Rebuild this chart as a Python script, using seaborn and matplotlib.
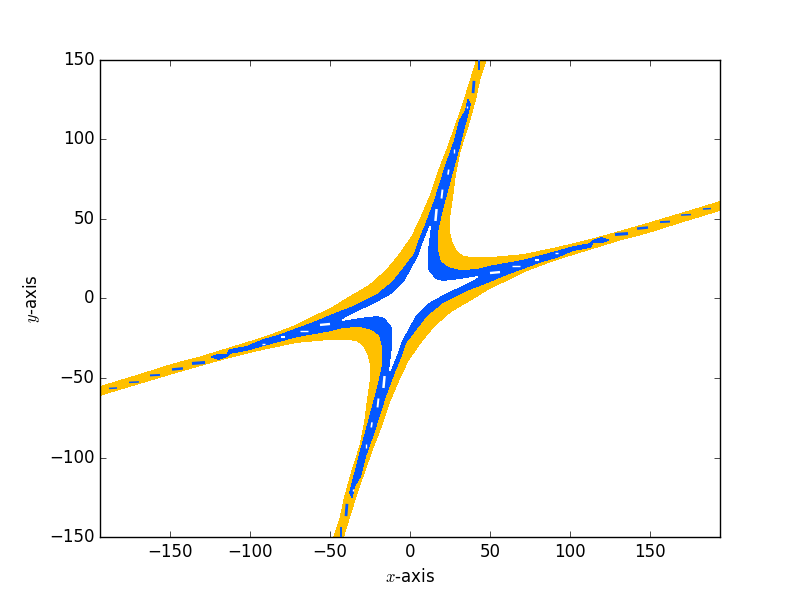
import numpy as np
import matplotlib
matplotlib.use("Agg")
import matplotlib.pyplot as plt
import seaborn as sns

plt.style.use("classic")

GOLD = "#ffc000"
BLUE = "#0558ff"

# half outlines in data units; the figure has point symmetry through the origin
gold_x = [41.9, 47.5, 43.75, 40.6, 36.25, 31.25, 28.1, 26.1, 24.6, 24.6, 26.1, 29.2, 33.1, 41.7, 50, 70.6, 91.9, 112.5,
          131.25, 148.1, 168.8, 193.75, 193.75, 168.8, 148.1, 131.25, 122.9, 112.5, 101.9, 91.9, 81.25, 70.6,
          60.4, 50, 39.4, 25, 14.4, 6.25, -1.25, -6.25, -12.5, -18.75, -23.1, -33.3]
gold_y = [150, 150, 139, 124.6, 108.9, 93.2, 77.5, 61.8, 51.2, 41.1, 34.8, 29.2, 26.1, 25.4, 25.4, 27.3, 31.7, 36.7,
          41.9, 46.8, 53, 60.6, 55.6, 48, 41.4, 37, 34.4, 31.2, 27.9, 24.8, 21, 16.8,
          11.6, 6.8, 0.3, -8.3, -17.7, -27.9, -38.6, -49.1, -63.7, -82, -93, -122.1]

blue_x = [36.25, 37.5, 35.4, 31.25, 25, 21.6, 20, 16.7, 16.9, 18.75, 23.75, 31.25, 41.7, 50, 70.6, 91.9, 101.9,
          112.5, 114.4, 119.8, 123.75, 120.6, 114.4, 112.5, 101.9, 91.9, 81.25, 70.6, 60.4, 50, 35.4, 20.6, 10.4,
          3.1, -3.1, -6.25, -9.4, -15.6, -23, -28.1, -31.25, -35]
blue_y = [124.6, 122.1, 113.9, 97.6, 74.4, 61.8, 55.6, 41.1, 30.4, 22.9, 19.1, 17.3, 17.9, 20, 23.7, 29.4, 32.3,
          34.2, 36.3, 38, 36.7, 35.7, 35.7, 32.3, 30.4, 26.2, 23.1, 19.1, 15.4, 11, 5.3, -2, -10.4,
          -19.8, -27.9, -37.4, -44.9, -61.6, -85, -99.3, -111.9, -118.1]

star_x = [12.5, 10.4, 10.6, 15.6, 20.6, 31.25, 41.9, 31.25, 25, 10.4, 3.1, -2.1, -6.25, -8.75]
star_y = [44.9, 28.6, 17.9, 11.6, 10.5, 11.6, 13.5, 7.8, 5.3, -2.8, -10.4, -19.8, -27.9, -35.5]

# small gaps and islands: x0, x1, y0, y1, each as its own list
gap_x0 = [50, 63.6, 78.1, 90.9, 16.6, 20.3, 24.2, 27.5, 35.6]
gap_x1 = [56.25, 68.6, 80.6, 92.8, 15.9, 19.7, 23.75, 27.5, 35.6]
gap_y0 = [16.0, 20.4, 24.2, 28.6, 56.2, 68.4, 81, 93.8, 120.8]
gap_y1 = [16.6, 20.4, 24.2, 28.6, 48.7, 62.8, 77.8, 91.3, 119.6]
gap_w = [1.7, 1.0, 1.5, 1.0, 1.8, 1.4, 1.2, 1.0, 1.0]

isl_x0 = [128.1, 141.9, 156.25, 169.4, 183.1, 43.1, 40]
isl_x1 = [136.25, 148.75, 162.5, 175.6, 188.1, 43.1, 39.4]
isl_y0 = [40.2, 43.9, 48, 52.4, 56.2, 150, 136.7]
isl_y1 = [40.8, 44.6, 48.3, 52.7, 56.5, 143.5, 129]
isl_w = [2.2, 1.8, 1.4, 1.1, 1.1, 1.4, 2.0]

xticks = [-150, -100, -50, 0, 50, 100, 150]
yticks = [-150, -100, -50, 0, 50, 100, 150]


def whole(a):
    a = np.asarray(a, dtype=float)
    return np.concatenate([a, -a, a[:1]])


fig = plt.figure(figsize=(8, 5.97), dpi=100, facecolor="white")
ax = fig.add_axes([0.125, 0.1, 0.775, 0.8])

for xs, ys, col, z in [(gold_x, gold_y, GOLD, 1), (blue_x, blue_y, BLUE, 2), (star_x, star_y, "white", 3)]:
    X, Y = whole(xs), whole(ys)
    ax.fill(X, Y, color=col, lw=0, zorder=z, antialiased=False)
    sns.lineplot(x=X, y=Y, sort=False, estimator=None, color=col, lw=0.5, zorder=z, ax=ax, antialiased=False)

for sign in (1, -1):
    for x0, x1, y0, y1, w in zip(gap_x0, gap_x1, gap_y0, gap_y1, gap_w):
        sns.lineplot(x=[sign * x0, sign * x1], y=[sign * y0, sign * y1], sort=False, estimator=None,
                     color="white", lw=w, zorder=4, ax=ax, solid_capstyle="butt")
    for x0, x1, y0, y1, w in zip(isl_x0, isl_x1, isl_y0, isl_y1, isl_w):
        sns.lineplot(x=[sign * x0, sign * x1], y=[sign * y0, sign * y1], sort=False, estimator=None,
                     color=BLUE, lw=w, zorder=4, ax=ax, solid_capstyle="butt")

ax.set_xlim(-193.75, 193.75)
ax.set_ylim(-150, 150)
ax.set_xticks(xticks)
ax.set_yticks(yticks)
ax.set_xlabel(r"$x$-axis")
ax.set_ylabel(r"$y$-axis")
fig.savefig("out.png", dpi=100, facecolor="white")
